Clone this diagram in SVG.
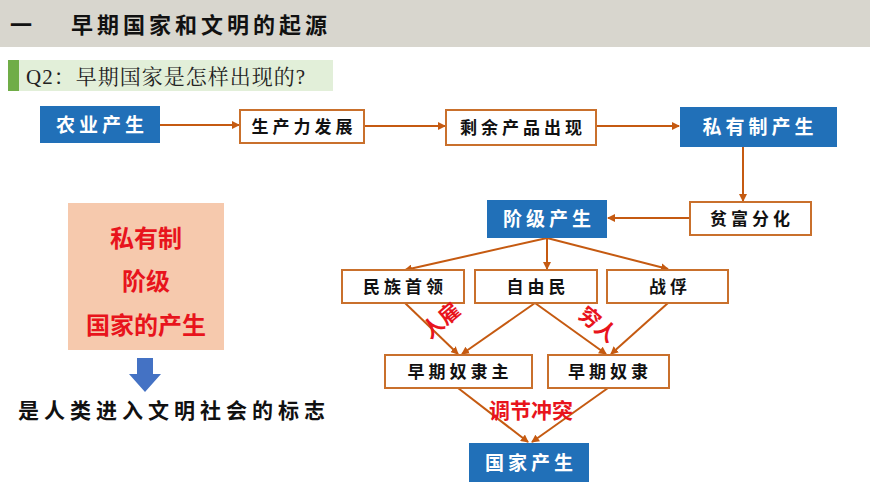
<svg xmlns="http://www.w3.org/2000/svg" width="870" height="489" viewBox="0 0 870 489">
<defs>
<marker id="ah" markerWidth="8" markerHeight="8" refX="7" refY="4" orient="auto" markerUnits="userSpaceOnUse"><path d="M0,0 L8,4 L0,8 z" fill="#c55a11"/></marker>
</defs>
<style>
.t{font-family:"Noto Sans CJK SC",sans-serif;font-weight:bold;text-anchor:middle}
.ob{fill:#fff;stroke:#c9702c;stroke-width:2}
.bb{fill:#2170b8}
.wt{fill:#fff;font-size:19px;letter-spacing:4px}
.kt{fill:#111;font-size:17px;letter-spacing:4px}
.c line{stroke:#c55a11;stroke-width:2;marker-end:url(#ah)}
.r{fill:#e8141c;font-size:21px}
</style>
<rect width="870" height="489" fill="#fff"/>
<rect x="0" y="0" width="870" height="47" fill="#d8d6ce"/>
<text x="10" y="33" font-family="Noto Sans CJK SC,sans-serif" font-weight="bold" font-size="22" fill="#111" letter-spacing="4">一　 早期国家和文明的起源</text>
<rect x="8" y="60" width="325" height="31" fill="#e2efd9"/>
<rect x="8" y="60" width="11" height="31" fill="#70ad47"/>
<text x="26" y="84" font-family="Liberation Serif,Noto Serif CJK SC,Noto Sans CJK SC,serif" font-size="21" fill="#222" letter-spacing="1">Q2：早期国家是怎样出现的?</text>

<g class="c">
<line x1="160" y1="125" x2="239" y2="125"/>
<line x1="364" y1="126" x2="445" y2="126"/>
<line x1="596" y1="126" x2="679" y2="126"/>
<line x1="743" y1="147" x2="743" y2="201"/>
<line x1="690" y1="218" x2="608" y2="218"/>
<line x1="547" y1="238" x2="405" y2="270"/>
<line x1="547" y1="238" x2="547" y2="269"/>
<line x1="547" y1="238" x2="668" y2="269"/>
<line x1="405" y1="303" x2="458" y2="354"/>
<line x1="535" y1="303" x2="462" y2="354"/>
<line x1="535" y1="303" x2="606" y2="354"/>
<line x1="668" y1="303" x2="611" y2="354"/>
<line x1="458" y1="388" x2="528" y2="442"/>
<line x1="608" y1="388" x2="532" y2="442"/>
</g>

<g id="n1"><rect class="bb" x="40" y="106" width="120" height="37"/><text class="t wt" x="102" y="132">农业产生</text></g>
<g id="n2"><rect class="ob" x="240" y="110" width="124" height="33"/><text class="t kt" x="304" y="133">生产力发展</text></g>
<g id="n3"><rect class="ob" x="446" y="110" width="150" height="35"/><text class="t kt" x="523" y="134">剩余产品出现</text></g>
<g id="n4"><rect class="bb" x="680" y="107" width="157" height="40"/><text class="t wt" x="760" y="134">私有制产生</text></g>
<g id="n5"><rect class="ob" x="690" y="202" width="121" height="33"/><text class="t kt" x="752" y="225">贫富分化</text></g>
<g id="n6"><rect class="bb" x="487" y="200" width="120" height="38"/><text class="t wt" x="549" y="226">阶级产生</text></g>
<g id="n7"><rect class="ob" x="342" y="270" width="122" height="33"/><text class="t kt" x="405" y="293">民族首领</text></g>
<g id="n8"><rect class="ob" x="475" y="270" width="122" height="33"/><text class="t kt" x="538" y="293">自由民</text></g>
<g id="n9"><rect class="ob" x="607" y="270" width="121" height="33"/><text class="t kt" x="670" y="293">战俘</text></g>
<g id="n10"><rect class="ob" x="385" y="355" width="147" height="33"/><text class="t kt" x="460" y="378">早期奴隶主</text></g>
<g id="n11"><rect class="ob" x="548" y="355" width="121" height="33"/><text class="t kt" x="610" y="378">早期奴隶</text></g>
<g id="n12"><rect class="bb" x="469" y="443" width="120" height="39"/><text class="t wt" x="531" y="470">国家产生</text></g>

<text class="t r" transform="translate(446,326) rotate(-40)">人雇</text>
<text class="t r" transform="translate(593,330) rotate(40)">穷人</text>
<text class="t r" x="531" y="418">调节冲突</text>

<g id="summary">
<rect x="68" y="203" width="156" height="147" fill="#f6c9ad"/>
<text class="t" x="146" y="247" font-size="24" fill="#e8141c">私有制</text>
<text class="t" x="146" y="290" font-size="24" fill="#e8141c">阶级</text>
<text class="t" x="146" y="334" font-size="24" fill="#e8141c">国家的产生</text>
<path d="M137,358 H153 V374 H161 L145,392 L129,374 H137 Z" fill="#4472c4"/>
<text x="18" y="418" font-family="Noto Sans CJK SC,sans-serif" font-weight="bold" font-size="21" fill="#111" letter-spacing="5">是人类进入文明社会的标志</text>
</g>
</svg>
